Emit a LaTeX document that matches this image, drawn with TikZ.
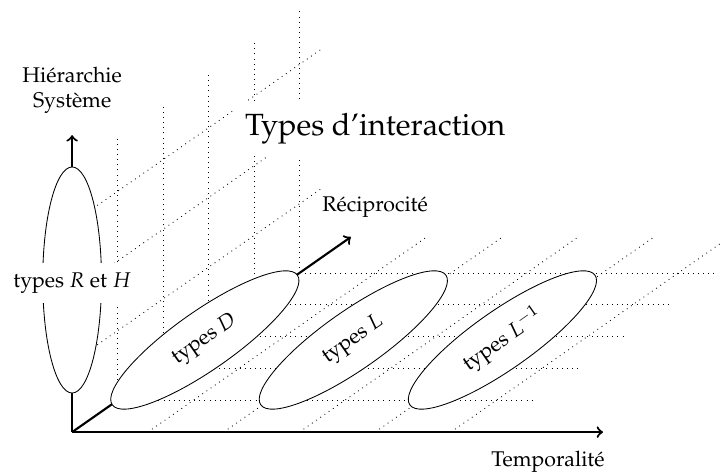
\documentclass[tikz,border=0pt]{standalone}
\usepackage[T1]{fontenc}
\usepackage{mathpazo}
\usepackage{amsmath}
\usepackage{tikz}
\usetikzlibrary{shapes.geometric}
\usetikzlibrary{arrows,positioning}

\begin{document}
\begin{tikzpicture}[auto]
\tikzstyle{axe}=[->,line width=1pt]
\tikzstyle{grille}=[dotted]
\tikzstyle{famille}=[ellipse,draw=black,fill=white,inner sep=0pt,minimum width=3.73cm,minimum height=0.97cm]

\useasboundingbox (-1.19,-0.69) rectangle (10.69,7.13);

% plan vertical
\draw[grille] (0.75,0.525) -- (0.75,4.865);
\draw[grille] (1.5,1.05) -- (1.5,5.39);
\draw[grille] (2.25,1.575) -- (2.25,5.915);
\draw[grille] (3.0,2.1) -- (3.0,6.44);
\draw[grille] (3.75,2.625) -- (3.75,6.965);
\draw[grille] (0,1.15) -- (4.1,4.01);
\draw[grille] (0,2.3) -- (4.1,5.16);
\draw[grille] (0,3.45) -- (4.1,6.31);

% plan horizontal
\draw[grille] (0.75,0.525) -- (7.62,0.525);
\draw[grille] (1.5,1.05) -- (8.37,1.05);
\draw[grille] (2.25,1.575) -- (9.12,1.575);
\draw[grille] (3.0,2.1) -- (9.87,2.1);
\draw[grille] (3.75,2.625) -- (10.62,2.625);
\draw[grille] (1.25,0) -- (5.85,3.22);
\draw[grille] (2.5,0) -- (7.1,3.22);
\draw[grille] (3.75,0) -- (8.35,3.22);
\draw[grille] (5,0) -- (9.6,3.22);
\draw[grille] (6.25,0) -- (10.85,3.22);

% axes
\coordinate (O) at (0,0);
\coordinate (temps) at (8.76,0);
\coordinate (hier) at (0,4.90);
\coordinate (recip) at (4.60,3.22);
\draw[axe] (O) -- (temps);
\draw[axe] (O) -- (hier);
\draw[axe] (O) -- (recip);

\node [famille,rotate=90] (RH) at (0,2.51) {};
\node [fill=white,minimum height=0.66cm] (RHtxt) at (0,2.46) {types $R$ et $H$};
\node [famille,rotate=35] (D) at (2.19,1.52) {types $D$};
\node [famille,rotate=35] (L) at (4.64,1.52) {types $L$};
\node [famille,rotate=35] (Linv) at (7.10,1.52) {types $L^{-1}$};

\node [align=center] (Hlab) at (0,5.64) {Hiérarchie\\Système};
\node (Rlab) at (5.0,3.71) {Réciprocité};
\node [anchor=north east] (Tlab) at (8.91,-0.19) {Temporalité};
\node [fill=white,inner sep=0.2cm,font=\Large] (titre) at (5.0,5.01) {Types d'interaction};
\end{tikzpicture}
\end{document}
